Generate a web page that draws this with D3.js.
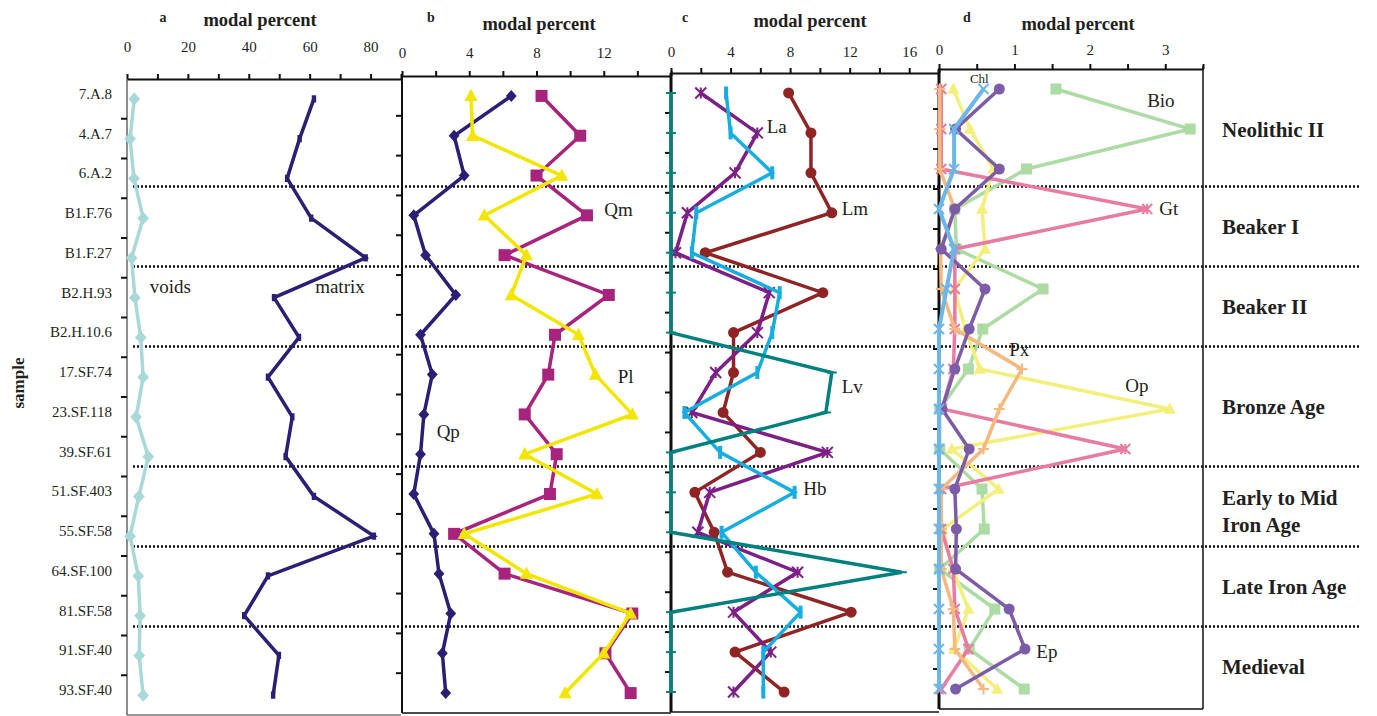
<!DOCTYPE html>
<html>
<head>
<meta charset="utf-8">
<script src="https://cdn.jsdelivr.net/npm/d3@7"></script>
<style>
    body { margin: 0; background: #fff; }
    svg text { font-family: "Liberation Serif", "Times New Roman", serif; fill: #231f20; }
</style>
</head>
<body>
<svg id="chart" width="1377" height="716"></svg>
<script>
// Modal composition per sample, panels a-d

// Samples, top to bottom
const samples = ['7.A.8', '4.A.7', '6.A.2', 'B1.F.76', 'B1.F.27', 'B2.H.93', 'B2.H.10.6', '17.SF.74',
    '23.SF.118', '39.SF.61', '51.SF.403', '55.SF.58', '64.SF.100', '81.SF.58', '91.SF.40', '93.SF.40'];

// Periods and how many samples belong to each
const periodNames = [['Neolithic II'], ['Beaker I'], ['Beaker II'], ['Bronze Age'],
    ['Early to Mid', 'Iron Age'], ['Late Iron Age'], ['Medieval']];
const periodSizes = [3, 2, 2, 3, 2, 2, 2];

// Panel a
const voids  = [2.4, 1.0, 2.3, 5.3, 1.5, 2.6, 4.5, 5.3, 3.0, 7.0, 3.9, 1.0, 3.7, 4.3, 4.0, 5.3];
const matrix = [61.4, 56.7, 52.6, 60.5, 78.4, 48.3, 56.5, 46.3, 54.3, 52.1, 61.4, 81.1, 46.3, 38.5, 49.9, 48.0];

// Panel b
const qp = [6.5, 3.1, 3.7, 0.7, 1.4, 3.2, 1.1, 1.8, 1.3, 1.1, 0.7, 1.9, 2.2, 2.9, 2.4, 2.6];
const qm = [8.3, 10.6, 8.0, 11.0, 6.1, 12.3, 9.1, 8.7, 7.3, 9.2, 8.8, 3.1, 6.1, 13.7, 12.1, 13.6];
const pl = [4.1, 4.2, 9.5, 4.9, 7.4, 6.5, 10.5, 11.5, 13.7, 7.3, 11.6, 3.7, 7.4, 13.6, 12.0, 9.7];

// Panel c
const lm = [7.9, 9.4, 9.4, 10.8, 2.3, 10.2, 4.2, 4.2, 3.5, 6.0, 1.6, 2.9, 3.8, 12.1, 4.3, 7.6];
const la = [2.0, 5.8, 4.3, 1.1, 0.3, 6.6, 5.8, 3.0, 1.4, 10.5, 2.6, 1.8, 8.5, 4.2, 6.7, 4.2];
const hb = [3.7, 4.0, 6.8, 1.7, 1.4, 7.3, 6.8, 5.8, 0.9, 3.3, 8.3, 3.4, 5.7, 8.7, 6.2, 6.2];
const lv = [0, 0, 0, 0, 0, 0, 0, 10.8, 10.4, 0, 0, 0, 15.5, 0, 0, 0];

// Panel d
const bio = [1.55, 3.33, 1.16, 0.21, 0.23, 1.38, 0.58, 0.39, 0.01, 0.01, 0.57, 0.6, 0.01, 0.74, 0.4, 1.13];
const op  = [0.19, 0.41, 0.72, 0.57, 0.61, 0.2, 0.35, 0.54, 3.06, 0.17, 0.79, 0.05, 0.18, 0.39, 0.2, 0.77];
const gt  = [0.03, 0.03, 0.03, 2.76, 0.21, 0.21, 0.21, 0.19, 0.04, 2.47, 0.03, 0.03, 0.19, 0.21, 0.39, 0.03];
const px  = [0.01, 0.01, 0.01, 0.21, 0.02, 0.03, 0.21, 1.1, 0.8, 0.59, 0.03, 0.03, 0.03, 0.19, 0.21, 0.59];
const ep  = [0.8, 0.22, 0.8, 0.21, 0.03, 0.61, 0.4, 0.21, 0.04, 0.4, 0.21, 0.23, 0.22, 0.93, 1.14, 0.22];
const chl = [0.59, 0.2, 0.2, 0, 0.2, 0.1, 0, 0, 0, 0, 0, 0, 0, 0, 0, 0];

// Marker shapes
const markers = {
    diamond: s => `M0,${-s}L${s * 0.9},0L0,${s}L${-s * 0.9},0Z`,
    square: s => `M${-s},${-s}H${s}V${s}H${-s}Z`,
    triangle: s => `M0,${-s * 1.1}L${s},${s * 0.8}L${-s},${s * 0.8}Z`,
    circle: s => d3.symbol(d3.symbolCircle, Math.PI * s * s)(),
    tick: s => `M${-s * 0.55},${-s * 0.9}H${s * 0.55}V${s * 0.9}H${-s * 0.55}Z`,
    cross: s => `M${-s},${-s}L${s},${s}M${-s},${s}L${s},${-s}`,
    star: s => `M${-s},${-s}L${s},${s}M${-s},${s}L${s},${-s}M0,${-s}V${s}`,
    plus: s => `M${-s},0H${s}M0,${-s}V${s}`,
    vbar: s => `M0,${-s}V${s}`,
    dash: s => `M${-s},0H${s}`
};
const strokeOnly = ['cross', 'star', 'plus', 'vbar', 'dash'];

function createChart() {
    const svg = d3.select('#chart');
    svg.selectAll('*').remove();

    // Panel layout (each panel was drawn a little higher than the one before)
    const panels = [
        {id: 'a', x: [127, 401], max: 90, step: 10, every: 20, y: [79, 715], labY: 52, titleY: 26, title: 260, letter: 163,
         axisColor: '#666', axisWidth: 1.5, bottomColor: '#777',
         series: [
            {values: voids, color: '#a8d8d8', shape: 'diamond', size: 6.5, label: 'voids', lx: 7.5, ly: 4.88},
            {values: matrix, color: '#2a1e75', shape: 'tick', size: 4, label: 'matrix', lx: 61.8, ly: 4.88}
         ]},
        {id: 'b', x: [402, 671], max: 16, step: 2, every: 4, y: [76, 713], labY: 58, titleY: 30, title: 539, letter: 431,
         axisColor: '#111', axisWidth: 2, bottomColor: '#111',
         series: [
            {values: qp, color: '#2a1e75', shape: 'diamond', size: 6, label: 'Qp', lx: 2.06, ly: 8.6},
            {values: qm, color: '#a8237c', shape: 'square', size: 6, label: 'Qm', lx: 12.03, ly: 3.02},
            {values: pl, color: '#f2e500', shape: 'triangle', size: 6.5, label: 'Pl', lx: 12.83, ly: 7.2}
         ]},
        {id: 'c', x: [671, 939], max: 18, step: 2, every: 4, y: [73, 712], labY: 56.7, titleY: 27.3, title: 810, letter: 685,
         axisColor: '#111', axisWidth: 3, bottomColor: '#111',
         series: [
            {values: lm, color: '#902424', shape: 'circle', size: 5.5, label: 'Lm', lx: 11.46, ly: 3.05},
            {values: la, color: '#7c1f86', shape: 'star', size: 5.5, label: 'La', lx: 6.43, ly: 0.99},
            {values: hb, color: '#17ade0', shape: 'vbar', size: 6.5, label: 'Hb', lx: 8.89, ly: 10.07},
            {values: lv, color: '#00807e', shape: 'dash', size: 5, label: 'Lv', lx: 11.46, ly: 7.52}
         ]},
        {id: 'd', x: [939, 1203], max: 3.5, step: 0.5, every: 1, y: [69, 709], labY: 55, titleY: 30, title: 1078, letter: 967,
         axisColor: '#111', axisWidth: 3, bottomColor: '#111',
         series: [
            {values: bio, color: '#acdba4', shape: 'square', size: 5.5, label: 'Bio', lx: 2.76, ly: 0.46},
            {values: op, color: '#f4ef7c', shape: 'triangle', size: 6, label: 'Op', lx: 2.47, ly: 7.57},
            {values: gt, color: '#e97aa1', shape: 'star', size: 5, label: 'Gt', lx: 2.92, ly: 3.15},
            {values: px, color: '#f5b97f', shape: 'plus', size: 5.5, label: 'Px', lx: 0.93, ly: 6.68},
            {values: ep, color: '#7c5ba8', shape: 'circle', size: 5.5, label: 'Ep', lx: 1.29, ly: 14.23},
            {values: chl, color: '#6cb6e8', shape: 'cross', size: 5, label: 'Chl', lx: 0.41, ly: -0.16, small: true}
         ]}
    ];

    panels.forEach(p => {
        p.xs = d3.scaleLinear().domain([0, p.max]).range(p.x);
        p.ys = d3.scaleLinear().domain([-0.5, samples.length - 0.5]).range(p.y);
    });

    const yA = panels[0].ys;
    const yD = panels[3].ys;

    // Period dividers follow the right-hand panel
    const ends = d3.cumsum(periodSizes);
    const divY = k => yD(k - 0.5) - 2.5;

    // Frames and axes
    panels.forEach(p => {
        const g = svg.append('g');

        // bottom edge
        g.append('line')
            .attr('x1', p.x[0]).attr('x2', p.x[1])
            .attr('y1', p.y[1]).attr('y2', p.y[1])
            .attr('stroke', p.bottomColor).attr('stroke-width', 1.5);

        // left axis with ticks between samples
        g.append('line')
            .attr('x1', p.x[0]).attr('x2', p.x[0])
            .attr('y1', p.y[0]).attr('y2', p.y[1])
            .attr('stroke', p.axisColor).attr('stroke-width', p.axisWidth);
        g.selectAll('line.rowtick')
            .data(d3.range(1, samples.length))
            .enter()
            .append('line')
            .attr('class', 'rowtick')
            .attr('x1', p.x[0] - 6).attr('x2', p.x[0])
            .attr('y1', d => p.ys(d - 0.5)).attr('y2', d => p.ys(d - 0.5))
            .attr('stroke', '#111').attr('stroke-width', 2);

        // top axis
        const ticks = d3.range(0, p.max + p.step / 2, p.step);
        const axis = d3.axisTop(p.xs)
            .tickValues(ticks)
            .tickSize(5)
            .tickSizeOuter(0)
            .tickPadding(p.y[0] - p.labY - 5)
            .tickFormat(d => (Math.abs(d / p.every - Math.round(d / p.every)) < 1e-6 && d < p.max) ? d3.format('d')(d) : '');
        const ax = g.append('g')
            .attr('transform', `translate(0,${p.y[0]})`)
            .call(axis);
        ax.select('.domain').attr('stroke', '#111').attr('stroke-width', 2);
        ax.selectAll('.tick line').attr('stroke', '#111').attr('stroke-width', 2);
        ax.selectAll('.tick text')
            .attr('dy', 0)
            .style('font-family', '"Liberation Serif", serif')
            .style('font-size', '15px')
            .attr('fill', '#231f20');

        // panel letter and axis title
        g.append('text')
            .attr('x', p.letter).attr('y', 21.7)
            .attr('text-anchor', 'middle')
            .style('font-size', '14px').style('font-weight', 'bold')
            .text(p.id);
        g.append('text')
            .attr('x', p.title).attr('y', p.titleY)
            .attr('text-anchor', 'middle')
            .style('font-size', '18.5px').style('font-weight', 'bold')
            .text('modal percent');
    });

    // Right edge of panel d
    const pd = panels[3];
    svg.append('line')
        .attr('x1', pd.x[1]).attr('x2', pd.x[1])
        .attr('y1', pd.y[0] - 3).attr('y2', pd.y[1])
        .attr('stroke', '#111').attr('stroke-width', 1.5);

    // Dotted period dividers
    svg.selectAll('line.divider')
        .data(ends.slice(0, -1))
        .enter()
        .append('line')
        .attr('class', 'divider')
        .attr('x1', 133).attr('x2', 1361)
        .attr('y1', d => divY(d)).attr('y2', d => divY(d))
        .attr('stroke', '#111')
        .attr('stroke-width', 2.5)
        .attr('stroke-dasharray', '2,2');

    // Series lines and markers
    panels.forEach(p => {
        const g = svg.append('g');
        const line = d3.line()
            .x(d => p.xs(d))
            .y((d, i) => p.ys(i));

        p.series.forEach(s => {
            g.append('path')
                .datum(s.values)
                .attr('d', line)
                .attr('fill', 'none')
                .attr('stroke', s.color)
                .attr('stroke-width', s.values === chl ? 4 : 3.5)
                .attr('stroke-linejoin', 'miter');

            const stroked = strokeOnly.includes(s.shape);
            g.selectAll(null)
                .data(s.values)
                .enter()
                .append('path')
                .attr('transform', (d, i) => `translate(${p.xs(d)},${p.ys(i)})`)
                .attr('d', markers[s.shape](s.size))
                .attr('fill', stroked ? 'none' : s.color)
                .attr('stroke', s.color)
                .attr('stroke-width', stroked ? (s.shape === 'vbar' ? 4 : 2) : 0);
        });

        // series names
        p.series.forEach(s => {
            g.append('text')
                .attr('x', p.xs(s.lx))
                .attr('y', p.ys(s.ly))
                .style('font-size', s.small ? '13px' : '19px')
                .text(s.label);
        });
    });

    // Sample names along panel a
    svg.selectAll('text.sample')
        .data(samples)
        .enter()
        .append('text')
        .attr('class', 'sample')
        .attr('x', 112)
        .attr('y', (d, i) => yA(i))
        .attr('text-anchor', 'end')
        .style('font-size', '15px')
        .text(d => d);

    svg.append('text')
        .attr('transform', 'translate(24,383) rotate(-90)')
        .attr('text-anchor', 'middle')
        .style('font-size', '17px')
        .style('font-weight', 'bold')
        .text('sample');

    // Period names to the right
    const starts = [0, ...ends.slice(0, -1)];
    periodNames.forEach((lines, k) => {
        const top = k === 0 ? yD(-0.5) + 5 : divY(starts[k]);
        const bottom = divY(ends[k]);
        const mid = (top + bottom) / 2 + 7;
        const t = svg.append('text')
            .attr('x', 1222)
            .attr('y', mid - (lines.length - 1) * 8.5)
            .style('font-size', '21px')
            .style('font-weight', 'bold');
        lines.forEach((ln, j) => {
            t.append('tspan')
                .attr('x', 1222)
                .attr('dy', j === 0 ? 0 : 26.7)
                .text(ln);
        });
    });
}

createChart();
</script>
</body>
</html>
